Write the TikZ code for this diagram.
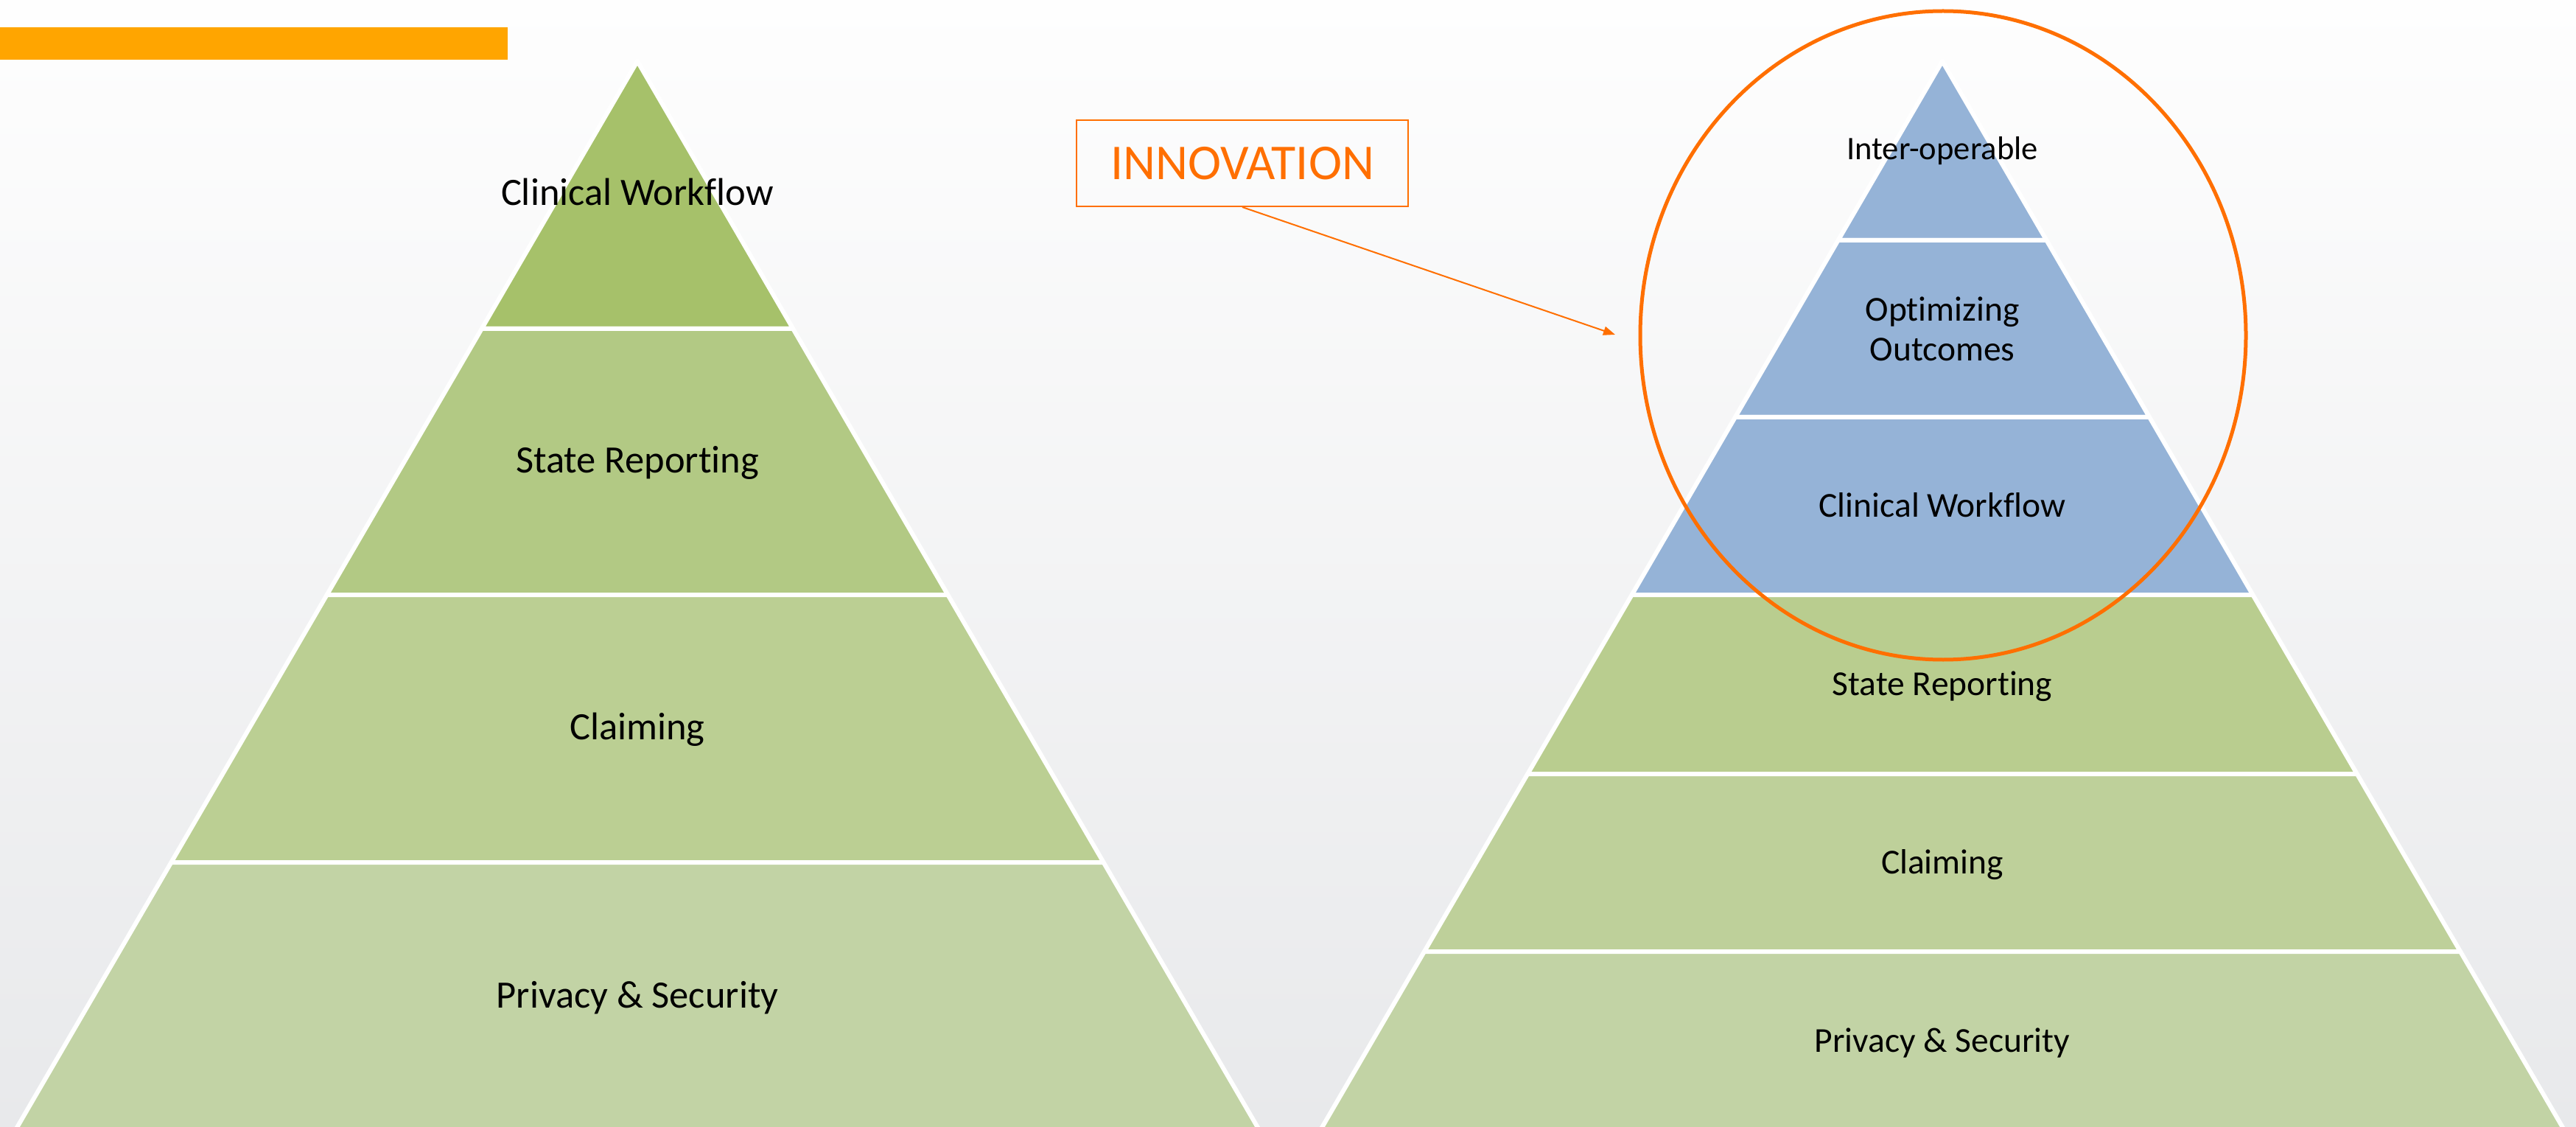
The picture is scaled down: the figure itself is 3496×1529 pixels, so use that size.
\documentclass[tikz,border=0pt]{standalone}
\usepackage{fontspec}
\setmainfont[Ligatures=NoCommon]{Carlito}
\usetikzlibrary{arrows.meta}
\definecolor{bgtop}{HTML}{FEFEFE}
\definecolor{bgbot}{HTML}{E8E9EB}
\definecolor{barorange}{HTML}{FFA500}
\definecolor{innov}{HTML}{FF6F00}
\definecolor{gA}{HTML}{A6C16A}
\definecolor{gB}{HTML}{B2C984}
\definecolor{gC}{HTML}{BBCF93}
\definecolor{gD}{HTML}{C2D3A5}
\definecolor{gE}{HTML}{B9CD8F}
\definecolor{gF}{HTML}{BED09A}
\definecolor{blueL}{HTML}{95B3D7}
\newcommand{\pyrlayer}[4]{%
  \pgfmathsetmacro{\pyrwa}{0.582*(#2-83)}%
  \pgfmathsetmacro{\pyrwb}{0.582*(#3-83)}%
  \filldraw[layerbox,fill=#4] ({#1-\pyrwa},#2) -- ({#1+\pyrwa},#2) -- ({#1+\pyrwb},#3) -- ({#1-\pyrwb},#3) -- cycle;%
}
\begin{document}
\begin{tikzpicture}[x=0.5pt,y=-0.5pt,
  layerbox/.style={draw=white,line width=3pt,line join=round},
  lblL/.style={anchor=base,inner sep=0pt,font=\fontsize{26.25pt}{30pt}\selectfont},
  lblR/.style={anchor=base,inner sep=0pt,font=\fontsize{23.75pt}{27pt}\selectfont},
  lblS/.style={anchor=base,inner sep=0pt,font=\fontsize{22.3pt}{27pt}\selectfont},
  innovbox/.style={draw=innov,line width=1pt,text=innov,minimum width=225pt,minimum height=58.5pt,inner sep=0pt,font=\fontsize{34pt}{40pt}\selectfont},
  innovarrow/.style={draw=innov,line width=1pt,-{Triangle[length=8pt,width=6pt]}},
  ring/.style={draw=innov,line width=2.5pt}]
\useasboundingbox (0,0) rectangle (3496,1529);
\shade[top color=bgtop,bottom color=bgbot] (0,0) rectangle (3496,1529);
\fill[barorange] (0,37) rectangle (689,81);
% left pyramid
\pyrlayer{865}{83}{446}{gA}
\pyrlayer{865}{446}{807}{gB}
\pyrlayer{865}{807}{1170}{gC}
\pyrlayer{865}{1170}{1532}{gD}
\node[lblL] (lcw) at (865,279) {Clinical Workflow};
\node[lblL] (lsr) at (865,641) {State Reporting};
\node[lblL] (lcl) at (865,1003) {Claiming};
\node[lblL] (lps) at (865,1367) {Privacy \& Security};
% right pyramid
\pyrlayer{2636}{83}{326}{blueL}
\pyrlayer{2636}{326}{566}{blueL}
\pyrlayer{2636}{566}{807}{blueL}
\pyrlayer{2636}{807}{1050}{gE}
\pyrlayer{2636}{1050}{1291}{gF}
\pyrlayer{2636}{1291}{1532}{gD}
\node[lblS] (rio) at (2636,217) {Inter-operable};
\node[anchor=center,inner sep=0pt,align=center,font=\fontsize{23.75pt}{27pt}\selectfont] (roo) at (2636,446) {Optimizing\\Outcomes};
\node[lblR] (rcw) at (2636,701) {Clinical Workflow};
\node[lblR] (rsr) at (2636,943) {State Reporting};
\node[lblR] (rcl) at (2636,1185) {Claiming};
\node[lblR] (rps) at (2636,1427) {Privacy \& Security};
% innovation
\draw[ring] (2637,455) ellipse [x radius=411, y radius=440];
\node[innovbox] (innov) at (1686,221.5) {INNOVATION};
\coordinate (tip) at (2192,454);
\draw[innovarrow] (innov.south) -- (tip);
\end{tikzpicture}
\end{document}
